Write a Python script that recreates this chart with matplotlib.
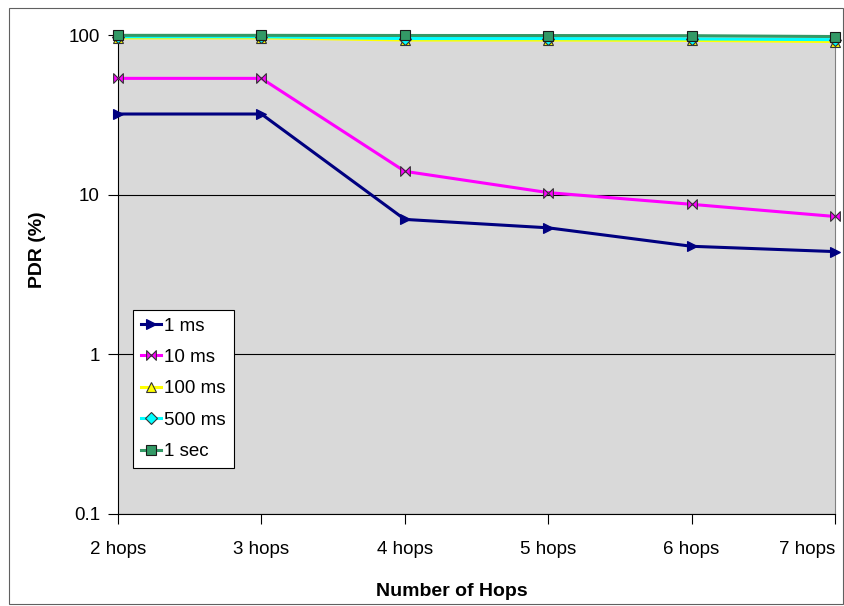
import numpy as np
import matplotlib
matplotlib.use("Agg")
import matplotlib.pyplot as plt
from matplotlib.path import Path
from matplotlib.patches import Rectangle

plt.rcParams['font.family'] = ['Liberation Sans', 'DejaVu Sans']

hops = ["2 hops", "3 hops", "4 hops", "5 hops", "6 hops", "7 hops"]
pdr_1ms = [32.0, 32.0, 7.0, 6.2, 4.75, 4.4]
pdr_10ms = [53.5, 53.5, 14.0, 10.3, 8.7, 7.3]
pdr_100ms = [96.0, 96.0, 93.0, 93.0, 92.5, 91.0]
pdr_500ms = [97.5, 97.5, 95.0, 95.0, 94.5, 93.5]
pdr_1sec = [99.5, 99.5, 99.3, 99.2, 99.0, 97.8]

# bowtie marker for the 10 ms series
bowtie = Path([(-1, -1), (1, 1), (1, -1), (-1, 1), (-1, -1)],
              [Path.MOVETO, Path.LINETO, Path.LINETO, Path.LINETO, Path.CLOSEPOLY])

fig = plt.figure(figsize=(8.45, 6.06), dpi=100)
ax = fig.add_axes([118/845, 1-514/606, (835-118)/845, (514-35)/606])
ax.set_facecolor('#D9D9D9')

x = np.arange(len(hops))
series = [
    (pdr_1ms, "1 ms", '#000080', '>', '#000080', 7),
    (pdr_10ms, "10 ms", '#FF00FF', bowtie, '#333333', 7),
    (pdr_100ms, "100 ms", '#FFFF00', '^', '#333333', 7),
    (pdr_500ms, "500 ms", '#00FFFF', 'D', '#333333', 6),
    (pdr_1sec, "1 sec", '#339966', 's', '#1a1a1a', 7),
]
for vals, lab, col, mk, ec, ms in series:
    ax.plot(x, vals, color=col, lw=2.2, marker=mk, markersize=ms,
            markerfacecolor=col, markeredgecolor=ec, markeredgewidth=0.8,
            label=lab, clip_on=False, zorder=3)

ax.set_yscale('log')
ax.set_ylim(0.1, 100)
ax.set_xlim(0, len(hops) - 1)
ax.set_yticks([0.1, 1, 10, 100])
ax.set_yticklabels(["0.1", "1", "10", "100"])
ax.yaxis.set_minor_locator(matplotlib.ticker.NullLocator())
ax.set_xticks(x)
ax.set_xticklabels(hops)
ax.get_xticklabels()[-1].set_ha('right')
ax.tick_params(axis='both', labelsize=13.5, length=7, width=0.8, direction='out', color='black')
ax.tick_params(axis='y', pad=6)
ax.tick_params(axis='x', pad=12.5)
ax.grid(axis='y', which='major', color='black', lw=0.8)

ax.spines['top'].set_visible(False)
ax.spines['right'].set_color('#808080')
ax.spines['left'].set_color('black')
ax.spines['bottom'].set_color('black')

ax.set_ylabel("PDR (%)", fontsize=14, fontweight='bold')
ax.yaxis.set_label_coords(-0.1, (514-250)/479)
ax.set_xlabel("Number of Hops", fontsize=14, fontweight='bold')
ax.xaxis.set_label_coords((452-118)/717, -(591-514)/479)
ax.xaxis.label.set_va('center')

leg = ax.legend(loc='lower left', bbox_to_anchor=((133-118)/717, (514-468)/479),
                fontsize=13.5, frameon=True, fancybox=False, edgecolor='black',
                framealpha=1, handlelength=1.1, handletextpad=0.15,
                labelspacing=0.76, borderpad=0.42, borderaxespad=0)
leg.get_frame().set_facecolor('white')
leg.get_frame().set_linewidth(0.8)

fig.patches.append(Rectangle((9/845, 2/606), 834/845, 596/606, transform=fig.transFigure,
                             fill=False, edgecolor='#606060', lw=0.8))

fig.savefig("out.png", dpi=100)
